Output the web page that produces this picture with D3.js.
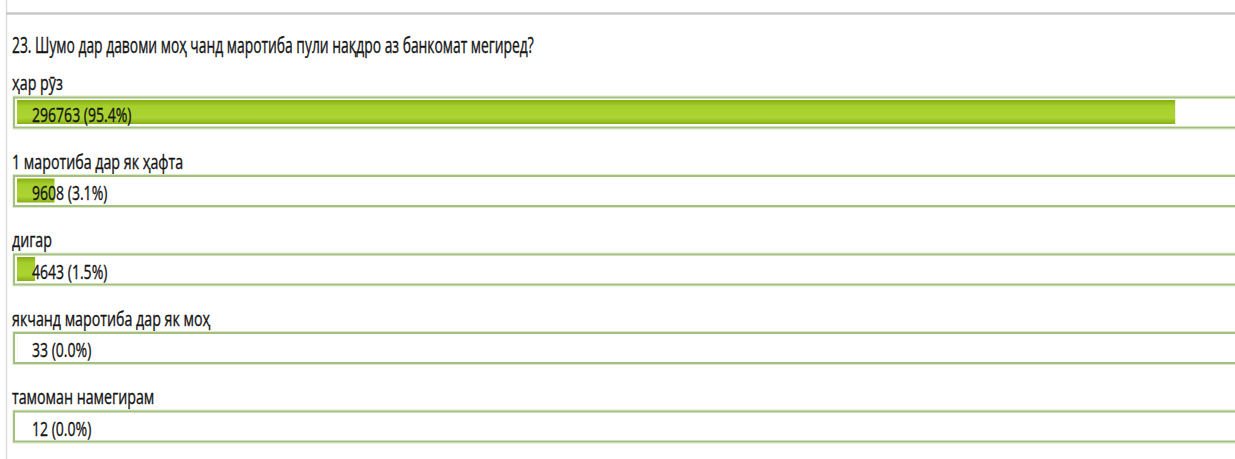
<!DOCTYPE html>
<html>
<head>
<meta charset="utf-8">
<script src="https://cdn.jsdelivr.net/npm/d3@7"></script>
<style>
  html, body { margin: 0; padding: 0; background: #fff; }
  svg { display: block; }
</style>
</head>
<body>
<svg id="chart"></svg>
<script>
// survey question and answers
var title = "23. Шумо дар давоми моҳ чанд маротиба пули нақдро аз банкомат мегиред?";
var answers = ["ҳар рӯз", "1 маротиба дар як ҳафта", "дигар", "якчанд маротиба дар як моҳ", "тамоман намегирам"];
var counts = [296763, 9608, 4643, 33, 12];
var shares = ["95.4%", "3.1%", "1.5%", "0.0%", "0.0%"];

var W = 1235, H = 459;
var svg = d3.select("#chart").attr("width", W).attr("height", H);

var total = d3.sum(counts);

// row position = top of each box
var y = d3.scalePoint().domain(answers).range([97, 411]);
var x = d3.scaleLinear().domain([0, total]).range([0, 1214]);

var boxX = 14, boxH = 31, inset = 3;

var defs = svg.append("defs");
var grad = defs.append("linearGradient").attr("id", "barfill")
  .attr("x1", 0).attr("y1", 0).attr("x2", 0).attr("y2", 1);
grad.append("stop").attr("offset", "0%").attr("stop-color", "#86ad12");
grad.append("stop").attr("offset", "25%").attr("stop-color", "#a6cf2c");
grad.append("stop").attr("offset", "75%").attr("stop-color", "#acd434");
grad.append("stop").attr("offset", "100%").attr("stop-color", "#88b016");

// frame lines
svg.append("line").attr("x1", 6.5).attr("x2", 6.5).attr("y1", 0).attr("y2", H)
  .attr("stroke", "#dcdcdc").attr("stroke-width", 1.5);
svg.append("line").attr("x1", 6).attr("x2", W).attr("y1", 13.5).attr("y2", 13.5)
  .attr("stroke", "#c8c8c8").attr("stroke-width", 2.5);

var font = "'Open Sans', 'Noto Sans', sans-serif";

// the source text is horizontally squeezed
function fit(k) {
  return function(sel) {
    sel.each(function() {
      var n = this.getComputedTextLength();
      d3.select(this).attr("textLength", n * k).attr("lengthAdjust", "spacingAndGlyphs");
    });
  };
}

function ink(sel) {
  sel.attr("font-family", font).attr("fill", "#141414")
    .attr("stroke", "#141414").attr("stroke-width", 0.35);
}

svg.append("text")
  .attr("x", 12).attr("y", 53)
  .attr("font-size", 21)
  .call(ink)
  .text(title)
  .call(fit(0.66));

var rows = svg.selectAll("g.row").data(answers).enter().append("g")
  .attr("class", "row")
  .attr("transform", function(d) { return "translate(0," + y(d) + ")"; });

rows.append("text")
  .attr("x", 12).attr("y", -7)
  .attr("font-size", 19.5)
  .call(ink)
  .text(function(d) { return d; })
  .call(fit(0.73));

// box outline: light outer line + darker inner line
rows.append("rect")
  .attr("x", boxX - 1).attr("y", -1)
  .attr("width", W).attr("height", boxH + 2)
  .attr("fill", "none").attr("stroke", "#dbe8cb").attr("stroke-width", 1);
rows.append("rect")
  .attr("x", boxX).attr("y", 0.5)
  .attr("width", W).attr("height", boxH - 1)
  .attr("fill", "#fff").attr("stroke", "#a4c07e").attr("stroke-width", 2);

rows.append("rect")
  .attr("x", boxX + inset).attr("y", inset)
  .attr("width", function(d, i) { return x(counts[i]); })
  .attr("height", boxH - 2 * inset - 1)
  .attr("fill", "url(#barfill)");

rows.append("text")
  .attr("x", 32).attr("y", 24.5)
  .attr("font-size", 19.5)
  .call(ink)
  .text(function(d, i) { return counts[i] + " (" + shares[i] + ")"; })
  .call(fit(0.72));
</script>
</body>
</html>
